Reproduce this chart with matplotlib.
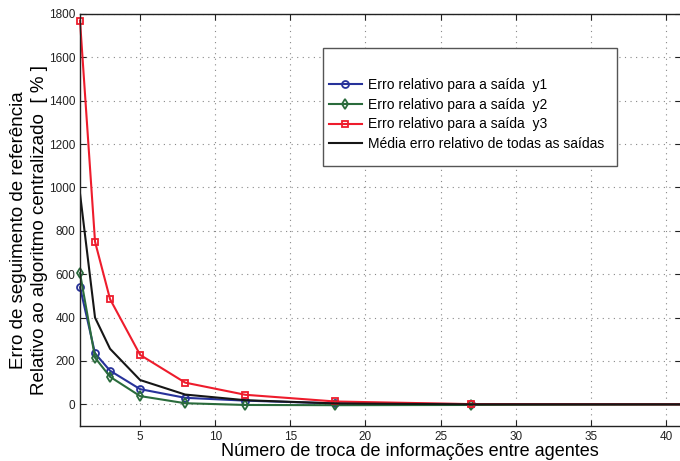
import numpy as np
import matplotlib
matplotlib.use('Agg')
import matplotlib.pyplot as plt
from matplotlib.patches import Rectangle

plt.rcParams['font.family'] = ['Liberation Sans', 'DejaVu Sans']

# numero de trocas de informacao entre agentes
n_trocas = [1, 2, 3, 5, 8, 12, 18, 27, 42]

# erro relativo ao algoritmo centralizado [%]
erro_y1 = [540, 235, 155, 70, 30, 17, 4, 1, 0]
erro_y2 = [605, 215, 127, 38, 5, -3, -4, -3, -1]
erro_y3 = [1770, 750, 485, 228, 100, 44, 13, 1, 0]
erro_medio = [972, 400, 256, 112, 45, 19, 4, 0, 0]

xticks = [5, 10, 15, 20, 25, 30, 35, 40]
yticks = [0, 200, 400, 600, 800, 1000, 1200, 1400, 1600, 1800]

fig = plt.figure(figsize=(6.8, 4.61), dpi=100)
ax = fig.add_axes([80 / 680, 1 - 426 / 461, 601 / 680, 412 / 461])

ax.plot(n_trocas, erro_y1, '-o', color='#27329a', lw=1.5, ms=5,
        mfc='none', mew=1.3, clip_on=False, label='Erro relativo para a saída  y1')
ax.plot(n_trocas, erro_y2, '-d', color='#2a6b3c', lw=1.5, ms=5,
        mfc='none', mew=1.3, clip_on=False, label='Erro relativo para a saída  y2')
ax.plot(n_trocas, erro_y3, '-s', color='#ee1c2c', lw=1.5, ms=5,
        mfc='none', mew=1.3, clip_on=False, label='Erro relativo para a saída  y3')
ax.plot(n_trocas, erro_medio, '-', color='#161616', lw=1.5,
        label='Média erro relativo de todas as saídas')

ax.set_xlim(1, 41)
ax.set_ylim(-100, 1800)
ax.set_xticks(xticks)
ax.set_yticks(yticks)
ax.tick_params(direction='in', labelsize=8.5, length=4, width=0.8,
               top=True, right=True, colors='#222222')
ax.grid(True, color='#888888', linestyle=(0, (1, 4)), linewidth=0.8)
for s in ax.spines.values():
    s.set_linewidth(1.0)
    s.set_color('#222222')

ax.set_xlabel('Número de troca de informações entre agentes', fontsize=13)
ax.xaxis.set_label_coords(0.549, -0.042)
ax.set_ylabel('Erro de seguimento de referência\nRelativo ao algoritmo centralizado  [ % ]',
              fontsize=13.5, linespacing=1.3)
ax.yaxis.set_label_coords(-0.054, 0.476)

# caixa da legenda estilo MATLAB
box = Rectangle((323 / 680, 1 - 166 / 461), (617 - 323) / 680, (166 - 48) / 461,
                transform=fig.transFigure, facecolor='white',
                edgecolor='#555555', linewidth=1.0, zorder=5, clip_on=False)
ax.add_patch(box)
leg = ax.legend(loc='upper left', bbox_to_anchor=(319 / 680, 1 - 68 / 461),
                bbox_transform=fig.transFigure, frameon=False, fontsize=10,
                handlelength=2.4, handletextpad=0.4, labelspacing=0.42,
                borderpad=0.2)
leg.set_zorder(6)

fig.savefig('out.png', dpi=100)
